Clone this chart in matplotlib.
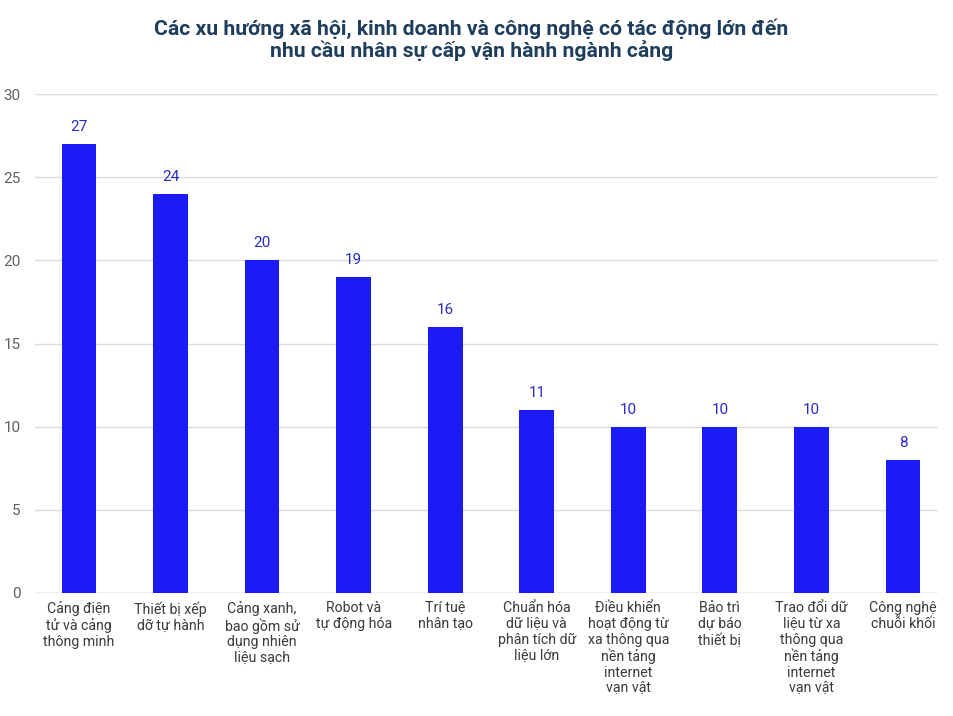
import matplotlib
matplotlib.use("Agg")
import matplotlib.pyplot as plt

plt.rcParams['font.family'] = ['Roboto', 'DejaVu Sans']

categories = [
    "Cảng điện\ntử và cảng\nthông minh",
    "Thiết bị xếp\ndỡ tự hành",
    "Cảng xanh,\nbao gồm sử\ndụng nhiên\nliệu sạch",
    "Robot và\ntự động hóa",
    "Trí tuệ\nnhân tạo",
    "Chuẩn hóa\ndữ liệu và\nphân tích dữ\nliệu lớn",
    "Điều khiển\nhoạt động từ\nxa thông qua\nnền tảng\ninternet\nvạn vật",
    "Bảo trì\ndự báo\nthiết bị",
    "Trao đổi dữ\nliệu từ xa\nthông qua\nnền tảng\ninternet\nvạn vật",
    "Công nghệ\nchuỗi khối",
]
values = [27, 24, 20, 19, 16, 11, 10, 10, 10, 8]
yticks = [0, 5, 10, 15, 20, 25, 30]

title = ("Các xu hướng xã hội, kinh doanh và công nghệ có tác động lớn đến\n"
         "nhu cầu nhân sự cấp vận hành ngành cảng")

fig = plt.figure(figsize=(9.54, 7.16), dpi=100)
ax = fig.add_axes([0.0367, 0.1718, 0.9463, 0.6969])

x = range(len(values))
bars = ax.bar(x, values, width=0.38, color='#1b1bf5', zorder=3)
for b, v in zip(bars, values):
    ax.text(b.get_x() + b.get_width() / 2, v + 0.6, str(v), ha='center',
            va='bottom', fontsize=11, color='#2a2ac8')

ax.set_xlim(-0.48, 9.38)
ax.set_ylim(0, 30)
ax.set_yticks(yticks)
ax.set_xticks(list(x))
ax.set_xticklabels(categories, fontsize=10.2, color='#3a3a3a', linespacing=1.15)
ax.tick_params(axis='y', labelsize=11, labelcolor='#606060', length=0, pad=10.5)
ax.tick_params(axis='x', length=0, pad=6)
ax.grid(axis='y', color='#dcdcdc', linewidth=1, zorder=0)
for s in ax.spines.values():
    s.set_visible(False)
ax.axhline(0, color='#cccccc', linewidth=1, zorder=2)

fig.text(0.494, 0.974, title, ha='center', va='top', fontsize=15.2,
         fontweight='bold', color='#1f3d5c', linespacing=1.05)

fig.savefig("out.png", dpi=100)
